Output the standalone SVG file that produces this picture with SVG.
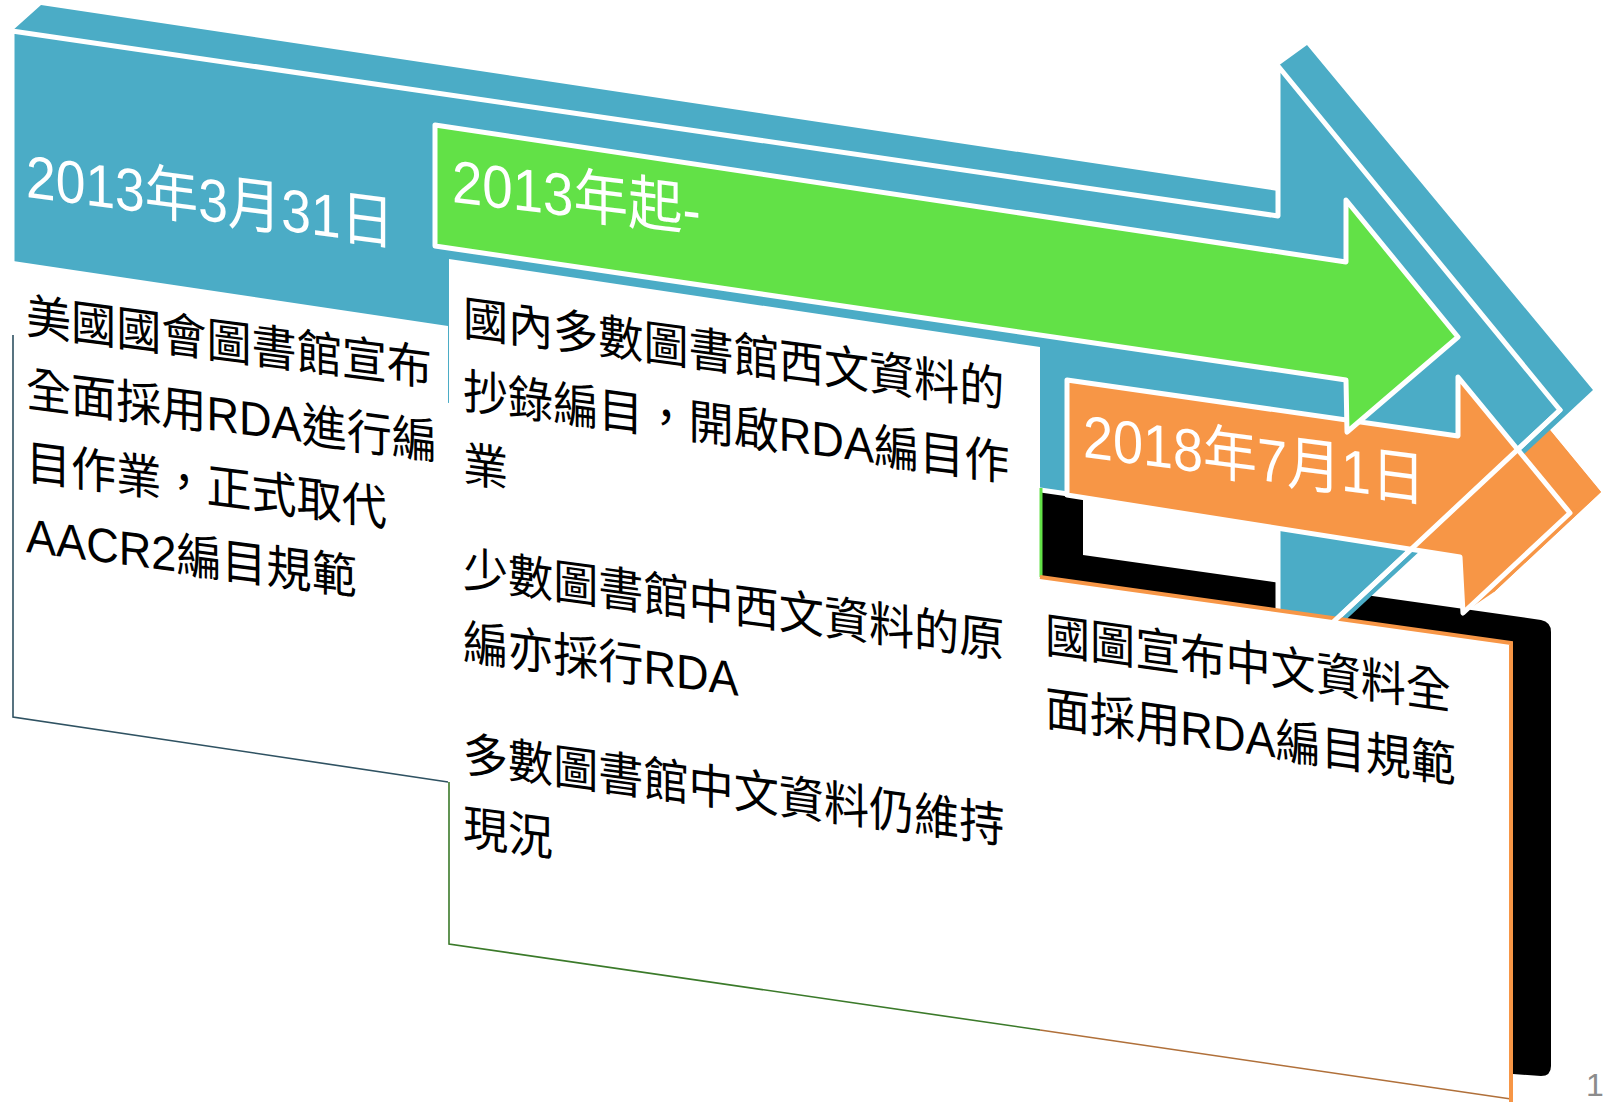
<svg xmlns="http://www.w3.org/2000/svg" width="1606" height="1102" viewBox="0 0 1606 1102">
<style>
.t{font-family:"Liberation Sans","Noto Sans CJK TC",sans-serif}
.title{font-size:60px;fill:#ffffff}
.body{font-size:48px;fill:#000000}
.blue{fill:#4BACC6}
.green{fill:#62E147}
.orange{fill:#F79646}
.edge{stroke:#ffffff;stroke-width:5;stroke-linejoin:round}
</style>
<rect width="1606" height="1102" fill="#ffffff"/>
<g id="box-3-depth">
<path d="M1042,488 L1083,495 L1083,555 L1541,620 Q1551,622 1551,632 L1551,1066 Q1551,1076 1541,1076 L1513,1074 L1513,643 L1042,577 Z" fill="#000000"/>
</g>
<g id="arrow-orange-back">
<polygon class="orange" points="1098,359 1489,415 1489,356 1601,492 1494,592 1491,536 1098,474"/>
<polygon class="orange" points="1458,377 1489,356 1601,492 1570,513"/>
<polygon class="orange" points="1570,513 1601,492 1494,592 1463,613"/>
</g>
<g id="arrow-blue">
<polygon class="blue" points="12,31 41,5 1278,191 1278,66 1307,45 1593,390 1308,655 1278,674 1278,524 12,343"/>
<polygon class="blue edge" points="12,31 1278,216 1278,66 1560,410 1278,674 1278,524 12,343"/>
</g>
<g id="box-1">
<polygon points="13,261 448,326 448,782 13,717" fill="#ffffff"/>
<polyline points="13,335 13,717 448,782" fill="none" stroke="#2f5262" stroke-width="1.6"/>
</g>
<g id="box-2">
<polygon points="449,259 1040,347 1040,1030 449,944" fill="#ffffff"/>
<polyline points="449,782 449,944 1040,1030" fill="none" stroke="#3b7a2a" stroke-width="1.6"/>
<line x1="1041" y1="488" x2="1041" y2="577" stroke="#62E147" stroke-width="3"/>
</g>
<g id="box-3">
<polygon points="1040,577 1511,643 1511,1102 1040,1030" fill="#ffffff"/>
<line x1="1040" y1="1030" x2="1511" y2="1099" stroke="#b0703a" stroke-width="1.6"/>
<polyline points="1040,577 1511,643 1511,1102" fill="none" stroke="#F79646" stroke-width="4"/>
</g>
<g id="arrow-orange">
<polygon class="orange edge" points="1067,380 1458,436 1458,377 1570,513 1463,613 1460,557 1067,495"/>
</g>
<g id="arrow-green">
<polygon class="green edge" points="435,125 1346,262 1346,200 1458,337 1347,432 1346,380 435,246"/>
</g>
<g id="connectors">
<line x1="1560" y1="410" x2="1330" y2="625" stroke="#ffffff" stroke-width="5" stroke-linecap="round"/>
</g>
<g id="labels">
<text class="t title" transform="matrix(0.89,0.116,0,1,26,197)">2013年3月31日</text>
<text class="t title" transform="matrix(0.91,0.109,0,1,452,202)">2013年起-</text>
<text class="t title" transform="matrix(0.9,0.117,0,1,1083,457)">2018年7月1日</text>
</g>
<g id="box-1-text" class="t body">
<text transform="matrix(0.94,0.122,0,1,26,333)">美國國會圖書館宣布</text>
<text transform="matrix(0.94,0.122,0,1,26,406)">全面採用RDA進行編</text>
<text transform="matrix(0.94,0.122,0,1,26,479)">目作業，正式取代</text>
<text transform="matrix(0.94,0.122,0,1,26,552)">AACR2編目規範</text>
</g>
<g id="box-2-text" class="t body">
<text transform="matrix(0.94,0.125,0,1,463,335)">國內多數圖書館西文資料的</text>
<text transform="matrix(0.94,0.125,0,1,463,408)">抄錄編目，開啟RDA編目作</text>
<text transform="matrix(0.94,0.125,0,1,463,481)">業</text>
<text transform="matrix(0.94,0.125,0,1,463,586)">少數圖書館中西文資料的原</text>
<text transform="matrix(0.94,0.125,0,1,463,659)">編亦採行RDA</text>
<text transform="matrix(0.94,0.125,0,1,463,771)">多數圖書館中文資料仍維持</text>
<text transform="matrix(0.94,0.125,0,1,463,844)">現況</text>
</g>
<g id="box-3-text" class="t body">
<text transform="matrix(0.94,0.132,0,1,1045,652)">國圖宣布中文資料全</text>
<text transform="matrix(0.94,0.132,0,1,1045,725)">面採用RDA編目規範</text>
</g>
<text class="t" x="1586" y="1096" font-size="32" fill="#8c8c8c">1</text>
</svg>
